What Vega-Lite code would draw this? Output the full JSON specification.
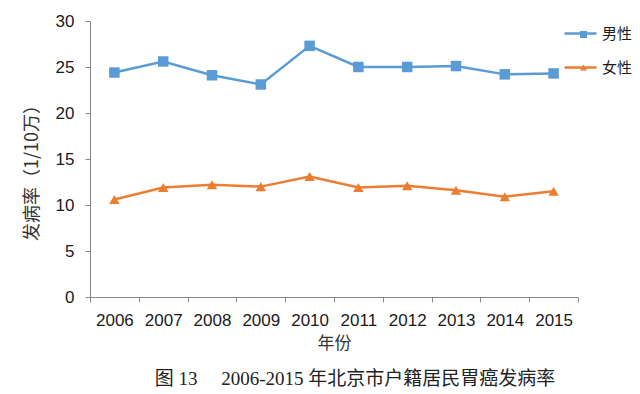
{
  "$schema": "https://vega.github.io/schema/vega-lite/v6.json",
  "width": 488,
  "height": 276,
  "autosize": "none",
  "padding": {"left": 90, "top": 21, "right": 62, "bottom": 97},
  "background": "white",
  "config": {
    "view": {"stroke": null},
    "font": "Liberation Sans",
    "axis": {"grid": false, "domainColor": "#868686", "tickColor": "#868686", "labelColor": "#1a1a1a", "titleColor": "#333333", "labelFont": "Liberation Sans", "titleFont": "Noto Sans CJK SC", "titleFontWeight": "normal"}
  },
  "title": {
    "text": "图 13\u00a0\u00a0\u00a0\u00a0\u00a02006-2015 年北京市户籍居民胃癌发病率",
    "orient": "bottom",
    "anchor": "middle",
    "dx": 21,
    "offset": 19,
    "font": "Liberation Serif, Noto Sans CJK SC",
    "fontSize": 19,
    "fontWeight": "normal",
    "color": "#222222"
  },
  "data": {
    "values": [
      {"year": "2006", "sex": "男性", "rate": 24.4},
      {"year": "2007", "sex": "男性", "rate": 25.6},
      {"year": "2008", "sex": "男性", "rate": 24.1},
      {"year": "2009", "sex": "男性", "rate": 23.1},
      {"year": "2010", "sex": "男性", "rate": 27.3},
      {"year": "2011", "sex": "男性", "rate": 25.0},
      {"year": "2012", "sex": "男性", "rate": 25.0},
      {"year": "2013", "sex": "男性", "rate": 25.1},
      {"year": "2014", "sex": "男性", "rate": 24.2},
      {"year": "2015", "sex": "男性", "rate": 24.3},
      {"year": "2006", "sex": "女性", "rate": 10.6},
      {"year": "2007", "sex": "女性", "rate": 11.9},
      {"year": "2008", "sex": "女性", "rate": 12.2},
      {"year": "2009", "sex": "女性", "rate": 12.0},
      {"year": "2010", "sex": "女性", "rate": 13.1},
      {"year": "2011", "sex": "女性", "rate": 11.9},
      {"year": "2012", "sex": "女性", "rate": 12.1},
      {"year": "2013", "sex": "女性", "rate": 11.6},
      {"year": "2014", "sex": "女性", "rate": 10.9},
      {"year": "2015", "sex": "女性", "rate": 11.5}
    ]
  },
  "encoding": {
    "x": {
      "field": "year", "type": "ordinal",
      "scale": {"type": "band", "paddingInner": 0, "paddingOuter": 0},
      "axis": {"title": "年份", "labelAngle": 0, "labelFontSize": 17, "tickSize": 5, "labelPadding": 10, "tickBand": "extent", "titleFontSize": 17, "titleY": 46, "titleBaseline": "middle"}
    },
    "y": {
      "field": "rate", "type": "quantitative",
      "scale": {"domain": [0, 30]},
      "axis": {"title": "发病率（1/10万）", "values": [0, 5, 10, 15, 20, 25, 30], "labelFontSize": 17, "tickSize": 5, "labelPadding": 11, "titleFontSize": 18, "titleAngle": -90, "titleX": -58, "titleY": 147, "titleAlign": "center", "titleBaseline": "middle"}
    }
  },
  "layer": [
    {
      "mark": {"type": "line", "strokeWidth": 2.5},
      "encoding": {
        "color": {
          "field": "sex", "type": "nominal",
          "scale": {"domain": ["男性", "女性"], "range": ["#5B9BD5", "#ED7D31"]},
          "legend": {"title": null, "orient": "none", "legendX": 473, "legendY": -5, "symbolType": "stroke", "symbolSize": 1024, "symbolStrokeWidth": 2.5, "labelFontSize": 15, "labelFont": "Noto Sans CJK SC", "labelColor": "#1a1a1a", "rowPadding": 8, "labelOffset": 4}
        }
      }
    },
    {
      "mark": {"type": "point", "filled": true, "opacity": 1, "size": 110},
      "encoding": {
        "fill": {
          "field": "sex", "type": "nominal", "sort": "descending",
          "scale": {"range": ["#5B9BD5", "#ED7D31"]},
          "legend": {"title": null, "orient": "none", "legendX": 486, "legendY": 6, "symbolSize": 50, "symbolOpacity": 1, "labelExpr": "''", "labelFontSize": 15, "rowPadding": 17, "labelOffset": 0}
        },
        "shape": {
          "field": "sex", "type": "nominal", "sort": "descending",
          "scale": {"range": ["square", "triangle-up"]},
          "legend": {"title": null, "orient": "none", "legendX": 486, "legendY": 6, "symbolSize": 50, "symbolOpacity": 1, "labelExpr": "''", "labelFontSize": 15, "rowPadding": 17, "labelOffset": 0}
        }
      }
    }
  ]
}
